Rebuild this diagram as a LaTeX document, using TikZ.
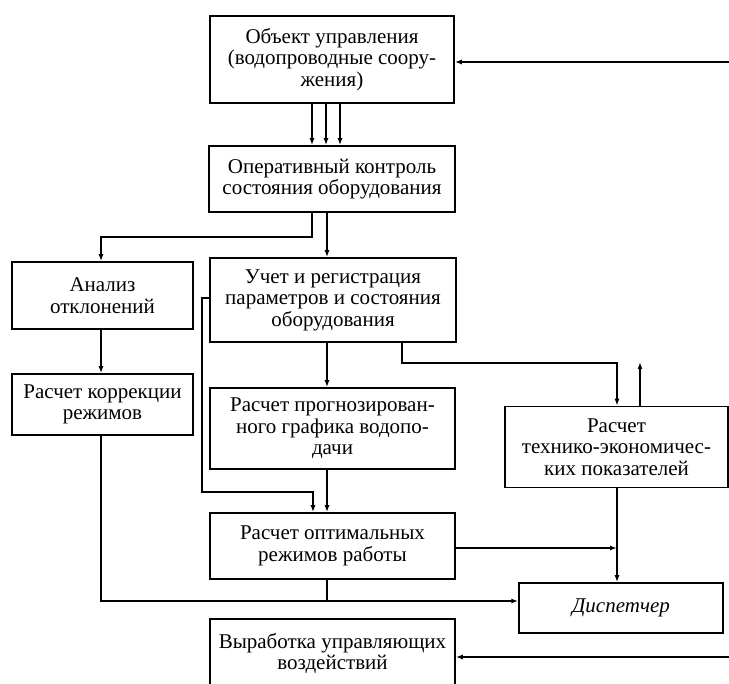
\documentclass[tikz,border=0pt]{standalone}
\usepackage{fontspec}
\setmainfont{Liberation Serif}
\usetikzlibrary{arrows.meta}
\begin{document}
\begin{tikzpicture}[x=1pt,y=-1pt,
  box/.style={draw, line width=1.5pt, rectangle, inner sep=0pt, align=center,
              font=\fontsize{21}{21.5}\selectfont},
  ln/.style={line width=1.5pt},
  arr/.style={ln, -{Latex[length=7pt,width=5pt]}}]
\useasboundingbox (0,0) rectangle (729,684);
\clip (0,0) rectangle (729,684);

\node[box, minimum width=244pt, minimum height=87pt] (obj) at (332,59.5)
  {Объект управления\\(водопроводные соору-\\жения)};
\node[box, minimum width=246pt, minimum height=66pt] (oper) at (332,179)
  {Оперативный контроль\\состояния оборудования};
\node[box, minimum width=181pt, minimum height=67pt] (anal) at (102.5,295.5)
  {Анализ\\отклонений};
\node[box, minimum width=181pt, minimum height=61pt] (korr) at (102.5,404.5)
  {Расчет коррекции\\режимов};
\node[box, minimum width=246pt, minimum height=84pt] (uchet) at (333,300)
  {Учет и регистрация\\параметров и состояния\\оборудования};
\node[box, minimum width=245pt, minimum height=81pt] (progn) at (332.5,428.5)
  {Расчет прогнозирован-\\ного графика водопо-\\дачи};
\node[box, minimum width=245pt, minimum height=66pt] (opt) at (332.5,546)
  {Расчет оптимальных\\режимов работы};
\node[box, minimum width=245pt, minimum height=69pt] (vyr) at (332.5,653.5)
  {Выработка управляющих\\воздействий};
\node[box, minimum width=223pt, minimum height=81pt] (tech) at (616.5,447)
  {Расчет\\технико-экономичес-\\ких показателей};
\node[box, minimum width=204pt, minimum height=50pt] (disp) at (621,608)
  {\textit{Диспетчер}};

% external inputs
\coordinate (inA) at (729,62);
\draw[arr] (inA) -- (inA -| obj.east);
\coordinate (inB) at (729,657);
\draw[arr] (inB) -- (inB -| vyr.east);

% object -> operative control (three lines)
\foreach \x in {312,326,340}
  \draw[arr] (\x,0 |- obj.south) -- (\x,0 |- oper.north);

% operative control -> analysis
\coordinate (c1) at (312,237);
\draw[arr] (c1 |- oper.south) -- (c1) -- (101,237) -- (101,0 |- anal.north);
% operative control -> uchet
\draw[arr] (327,0 |- oper.south) -- (327,0 |- uchet.north);
% analysis -> correction
\draw[arr] (101,0 |- anal.south) -- (101,0 |- korr.north);
% uchet -> prognosis
\draw[arr] (327,0 |- uchet.south) -- (327,0 |- progn.north);
% prognosis -> optimal
\draw[arr] (327,0 |- progn.south) -- (327,0 |- opt.north);
% uchet left -> optimal
\coordinate (c2) at (202,298);
\draw[arr] (c2 -| uchet.west) -- (c2) -- (202,492) -- (313,492) -- (313,0 |- opt.north);
% uchet -> tech
\coordinate (c3) at (402,363);
\draw[arr] (c3 |- uchet.south) -- (c3) -- (617,363) -- (617,0 |- tech.north);
% tech output up
\coordinate (tout) at (640,362);
\draw[arr] (tout |- tech.north) -- (tout);
% tech -> dispatcher
\draw[arr] (617,0 |- tech.south) -- (617,0 |- disp.north);
% optimal -> dispatcher line
\coordinate (c4) at (617,548);
\draw[arr] (c4 -| opt.east) -- (c4);
% correction + optimal -> dispatcher
\coordinate (c5) at (101,601);
\draw[arr] (101,0 |- korr.south) -- (c5) -- (c5 -| disp.west);
\draw[ln] (327,0 |- opt.south) -- (327,601);
\end{tikzpicture}
\end{document}
